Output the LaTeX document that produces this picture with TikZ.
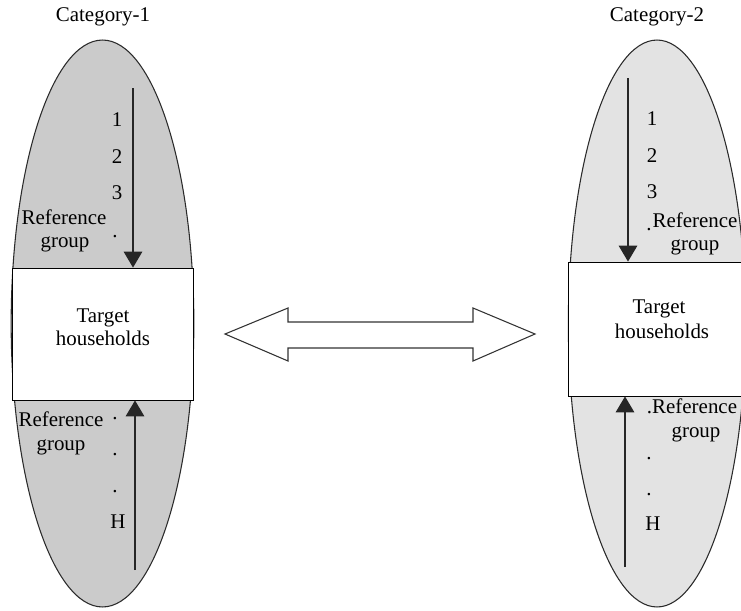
\documentclass[tikz,border=0pt]{standalone}
\usepackage{fontspec}
\setmainfont{Liberation Serif}
\usetikzlibrary{arrows.meta}
\definecolor{darkfill}{HTML}{CBCBCB}
\definecolor{lightfill}{HTML}{E3E3E3}
\definecolor{edge}{HTML}{2A2A2A}
\begin{document}
\begin{tikzpicture}[x=0.75pt,y=-0.75pt,
  lbl/.style={font=\fontsize{15.7}{18}\selectfont, inner sep=0pt, anchor=base},
  ell/.style={draw=edge, line width=0.8pt},
  box/.style={draw=black, fill=white, line width=0.65pt, inner sep=0pt},
  conn/.style={draw=black!85, line width=0.9pt, -{Triangle[length=12pt,width=14pt]}},
  bigarrow/.style={draw=black!80, fill=white, line width=0.8pt}]
\useasboundingbox (0,0) rectangle (741,610);
\clip (0,0) rectangle (741,610);

% ellipses
\path[ell, fill=darkfill] (102.5,323.5) ellipse [x radius=68.5pt, y radius=212.6pt];
\path[ell, fill=lightfill] (657,323.5) ellipse [x radius=66.5pt, y radius=212.6pt];

% boxes
\node[box, minimum width=135.75pt, minimum height=99pt] (box1) at (102.5,334) {};
\node[box, minimum width=144pt, minimum height=100.5pt] (box2) at (664,329) {};

% left category
\node[lbl] (cat1) at (103,22) {Category-1};
\node[lbl] (n1a) at (117,126) {1};
\node[lbl] (n2a) at (117,163) {2};
\node[lbl] (n3a) at (117,199) {3};
\node[lbl] (ref1a) at (64,224) {Reference};
\node[lbl] (grp1a) at (65,247) {group};
\node[lbl] (dot1a) at (115,237) {.};
\node[lbl] (tgt1) at (103,322) {Target};
\node[lbl] (hh1) at (103,345) {households};
\node[lbl] (ref1b) at (61,426) {Reference};
\node[lbl] (grp1b) at (61,450) {group};
\node[lbl] (dot1b) at (115,419) {.};
\node[lbl] (dot1c) at (115,455) {.};
\node[lbl] (dot1d) at (115,492) {.};
\node[lbl] (h1) at (118,528) {H};

% right category
\node[lbl] (cat2) at (657,22) {Category-2};
\node[lbl] (n1b) at (652,125) {1};
\node[lbl] (n2b) at (652,162) {2};
\node[lbl] (n3b) at (652,198) {3};
\node[lbl] (ref2a) at (695,227) {Reference};
\node[lbl] (grp2a) at (695,250) {group};
\node[lbl] (dot2a) at (649,230) {.};
\node[lbl] (tgt2) at (659,313) {Target};
\node[lbl] (hh2) at (662,338) {households};
\node[lbl] (ref2b) at (692,413) {.Reference};
\node[lbl] (grp2b) at (696,437) {group};
\node[lbl] (dot2b) at (649,459) {.};
\node[lbl] (dot2c) at (649,495) {.};
\node[lbl] (h2) at (653,530) {H};

% vertical arrows
\coordinate (s1) at (133,88);
\coordinate (s2) at (135,570);
\coordinate (s3) at (628,78);
\coordinate (s4) at (625,567);
\draw[conn] (s1) -- (s1 |- box1.north);
\draw[conn] (s2) -- (s2 |- box1.south);
\draw[conn] (s3) -- (s3 |- box2.north);
\draw[conn] (s4) -- (s4 |- box2.south);

% double arrow
\path[bigarrow] (225,334) -- (288,308) -- (288,322) -- (473,322) -- (473,308)
  -- (535,334) -- (473,361) -- (473,348) -- (288,348) -- (288,361) -- cycle;
\end{tikzpicture}
\end{document}
